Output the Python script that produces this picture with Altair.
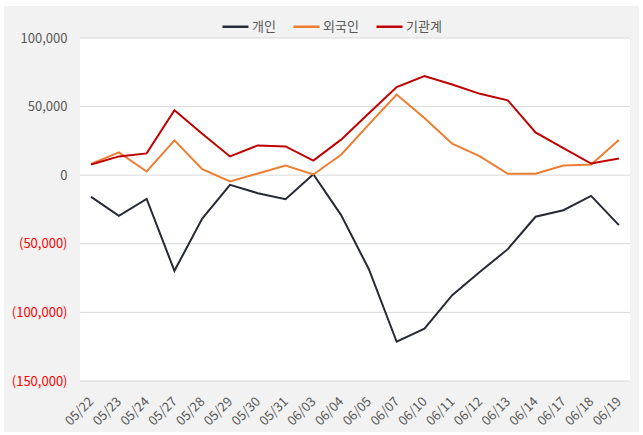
import altair as alt
import pandas as pd

dates = ["05/22", "05/23", "05/24", "05/27", "05/28", "05/29", "05/30", "05/31",
         "06/03", "06/04", "06/05", "06/07", "06/10", "06/11", "06/12", "06/13",
         "06/14", "06/17", "06/18", "06/19"]
individual = [-15800, -29600, -17300, -69700, -31600, -7000, -13100, -17500, 700, -29100,
              -68500, -121400, -111900, -87400, -70400, -53900, -30300, -25500, -15100, -36400]
foreign = [8300, 16600, 2700, 25400, 4400, -4600, 1200, 7100, 500, 14900,
           37100, 58800, 41700, 22900, 13700, 1000, 1000, 7100, 7800, 25600]
institution = [7800, 13700, 15900, 47300, 30200, 13700, 21700, 21000, 10700, 25900,
               45100, 64200, 72200, 66100, 59300, 54600, 31200, 19800, 8500, 12200]

series_names = ["개인", "외국인", "기관계"]
series_colors = ["#252a34", "#ed7d31", "#c00000"]
y_ticks = [-150000, -100000, -50000, 0, 50000, 100000]

rows = []
for name, vals in zip(series_names, [individual, foreign, institution]):
    for d, v in zip(dates, vals):
        rows.append({"date": d, "series": name, "value": v})
df = pd.DataFrame(rows)
grid_df = pd.DataFrame({"value": y_ticks})

FONT = "Noto Sans CJK KR"
GRAY = "#f2f2f2"
W, H = 550, 343

y_scale = alt.Scale(domain=[-150000, 100000], nice=False, zero=False)
y_axis = alt.Axis(values=y_ticks, ticks=False, domain=False, grid=False,
                  labelExpr="datum.value < 0 ? '(' + format(-datum.value, ',') + ')' : format(datum.value, ',') + '\u00a0'",
                  labelColor={"expr": "datum.value < 0 ? '#ff0000' : '#595959'"},
                  labelPadding=13, labelFontSize=13, labelFont=FONT, zindex=2)

# decorative grey frame around the white plot area
dummy = pd.DataFrame({"k": [0]})
def strip(x0, x1, y0, y1):
    return alt.Chart(dummy).mark_rect(color=GRAY, strokeWidth=0).encode(
        x=alt.value(x0), x2=alt.value(x1), y=alt.value(y0), y2=alt.value(y1))

frame = alt.layer(
    strip(-76, 559, -32, 0),
    strip(-76, 559, H, 394),
    strip(-76, 0, 0, H),
    strip(W, 559, 0, H),
)

grid = alt.Chart(grid_df).mark_rule(color="#d9d9d9", strokeWidth=1).encode(
    y=alt.Y("value:Q", title=None, scale=y_scale, axis=y_axis))

lines = alt.Chart(df).mark_line(strokeWidth=2).encode(
    x=alt.X("date:N", sort=dates, title=None,
            scale=alt.Scale(type="point", padding=0.4),
            axis=alt.Axis(labelAngle=-45, labelAlign="right", labelBaseline="middle",
                          labelPadding=18, ticks=False, domain=False, grid=False,
                          labelFontSize=13, labelColor="#595959", labelFont=FONT,
                          zindex=2)),
    y=alt.Y("value:Q", title=None, scale=y_scale, axis=y_axis),
    color=alt.Color("series:N", sort=series_names,
                    scale=alt.Scale(domain=series_names, range=series_colors),
                    legend=alt.Legend(title=None, orient="none", direction="horizontal",
                                      legendX=141, legendY=-26,
                                      symbolType="stroke", symbolSize=676,
                                      symbolStrokeWidth=2.5, labelFontSize=13,
                                      labelColor="#595959", labelFont=FONT,
                                      labelOffset=2, columnPadding=12, zindex=2)),
    order=alt.Order("series:N"),
)

chart = alt.layer(frame, grid, lines).properties(
    width=W, height=H,
    background="white",
    padding={"left": 80, "top": 38, "right": 13, "bottom": 54},
    autosize=alt.AutoSizeParams(type="none"),
).configure_view(fill="white", stroke=None)

chart.save("out.html", embed_options={"renderer": "svg", "actions": False})
